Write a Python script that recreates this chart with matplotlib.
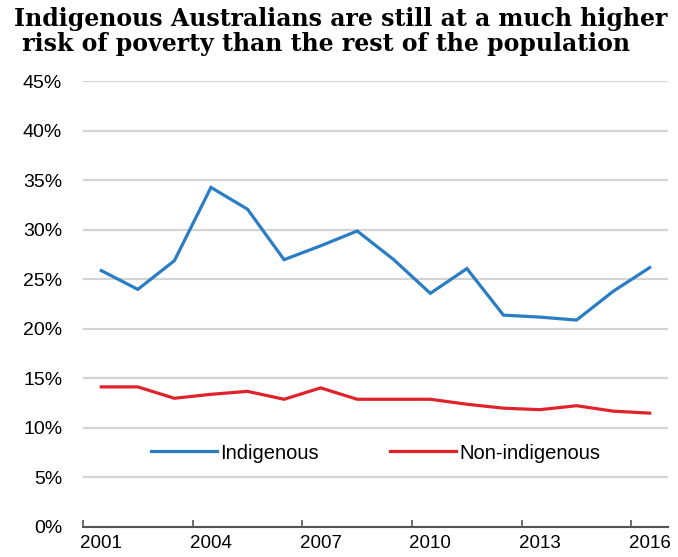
import matplotlib
matplotlib.use("Agg")
import matplotlib.pyplot as plt
import numpy as np

years = list(range(2001, 2017))
indigenous = [25.9, 24.0, 26.9, 34.3, 32.1, 27.0, 28.4, 29.9, 27.0, 23.6,
              26.1, 21.4, 21.2, 20.9, 23.8, 26.2]
non_indigenous = [14.15, 14.15, 13.0, 13.4, 13.7, 12.9, 14.05, 12.9, 12.9, 12.9,
                  12.4, 12.0, 11.85, 12.25, 11.7, 11.5]
y_ticks = [0, 5, 10, 15, 20, 25, 30, 35, 40, 45]
title = "Indigenous Australians are still at a much higher\n risk of poverty than the rest of the population"

plt.rcParams['font.family'] = ['Liberation Sans', 'DejaVu Sans']

fig = plt.figure(figsize=(6.78, 5.57), dpi=100)
ax = fig.add_axes([0.1224, 0.0539, 0.8628, 0.7998])

x = np.arange(len(years))
ax.plot(x, indigenous, color='#2a7dc3', lw=2.3, label='Indigenous', solid_joinstyle='miter')
ax.plot(x, non_indigenous, color='#e0232b', lw=2.3, label='Non-indigenous', solid_joinstyle='miter')

ax.set_xlim(-0.5, len(years) - 0.5)
ax.set_ylim(0, 45)
ax.set_yticks(y_ticks)
ax.set_yticklabels([f"{v}%" for v in y_ticks])
ax.yaxis.grid(True, color='#d4d4d4', lw=1.6)
ax.set_axisbelow(True)

# ticks at category boundaries, labels at category centres
ax.set_xticks(np.arange(-0.5, len(years) - 0.5, 3))
ax.set_xticklabels([])
ax.set_xticks(x[::3], minor=True)
ax.set_xticklabels([str(years[i]) for i in x[::3]], minor=True)
ax.tick_params(axis='x', which='major', direction='in', length=5, width=1.2, color='#555555')
ax.tick_params(axis='x', which='minor', length=0, pad=6, labelsize=13.5)
ax.tick_params(axis='y', length=0, pad=15, labelsize=14)

for s in ['top', 'right', 'left']:
    ax.spines[s].set_visible(False)
ax.spines['bottom'].set_color('#555555')
ax.spines['bottom'].set_linewidth(1.5)

ax.legend(loc='center', bbox_to_anchor=(0.5, 0.166), ncol=2, frameon=False,
          fontsize=14.5, handlelength=3.3, handletextpad=0.15, columnspacing=3.5)

fig.text(0.02, 0.987, title, ha='left', va='top', fontsize=17, fontweight='bold',
         family='DejaVu Serif', linespacing=1.05)

fig.savefig('out.png', dpi=100)
